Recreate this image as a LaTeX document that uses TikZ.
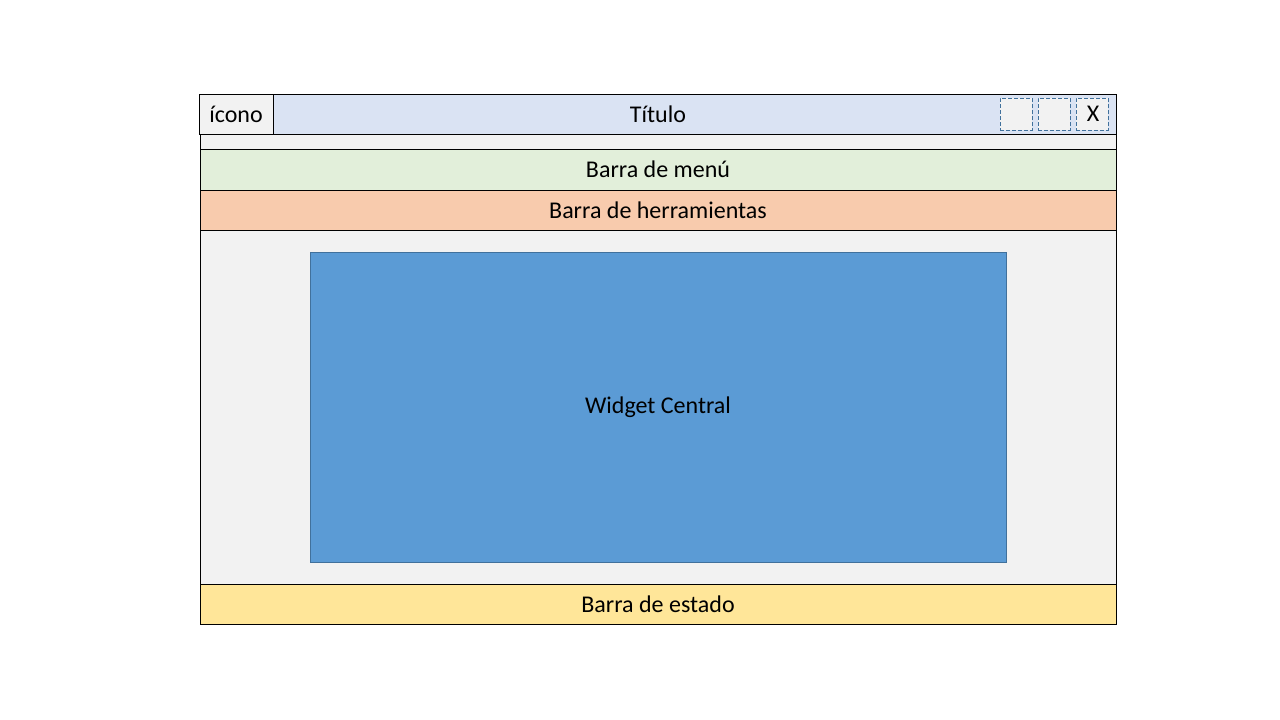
\documentclass[tikz,border=0pt]{standalone}
\usepackage{fontspec}
\setmainfont{Carlito}
\usepackage{xcolor}
\usepackage{tikz}
\usetikzlibrary{positioning}
\definecolor{panel}{HTML}{F2F2F2}
\definecolor{titlebg}{HTML}{DAE3F3}
\definecolor{menubg}{HTML}{E2EFDA}
\definecolor{toolbg}{HTML}{F8CBAD}
\definecolor{statusbg}{HTML}{FFE699}
\definecolor{widgetbg}{HTML}{5B9BD5}
\definecolor{widgetline}{HTML}{41719C}

\begin{document}
\begin{tikzpicture}[x=1pt,y=-1pt,
    every node/.style={inner sep=0pt,outer sep=0pt,font=\fontsize{24}{28}\selectfont},
    bar/.style={draw,line width=1pt,minimum width=916pt,minimum height=40pt},
    winbtn/.style={draw=widgetline,dash pattern=on 4pt off 2pt,fill=panel,minimum width=32pt,minimum height=32pt}]
    \fill[white] (0,0) rectangle (1280,720);
    \node[bar,fill=panel,minimum height=530pt,anchor=north west] (win) at (200,94) {};
    \node[bar,fill=titlebg,anchor=north west] (title) at (200,94) {Título};
    \node[bar,fill=panel,minimum width=74pt,anchor=north west] (icon) at (199,94) {ícono};
    \node[bar,fill=menubg,minimum height=41pt,below=15pt of title] (menu) {Barra de menú};
    \node[bar,fill=toolbg,below=0pt of menu] (tools) {Barra de herramientas};
    \node[bar,fill=statusbg,anchor=south] (status) at (win.south) {Barra de estado};
    \node[draw=widgetline,fill=widgetbg,minimum width=696pt,minimum height=310pt,anchor=north west] (widget) at (310,252) {\raisebox{-2pt}{Widget Central}};
    \node[winbtn,anchor=north west] (btnmin) at (1000,98) {};
    \node[winbtn,right=6pt of btnmin] (btnmax) {};
    \node[winbtn,right=6pt of btnmax] (btnclose) {\hspace{2pt}X};
  \end{tikzpicture}
\end{document}
